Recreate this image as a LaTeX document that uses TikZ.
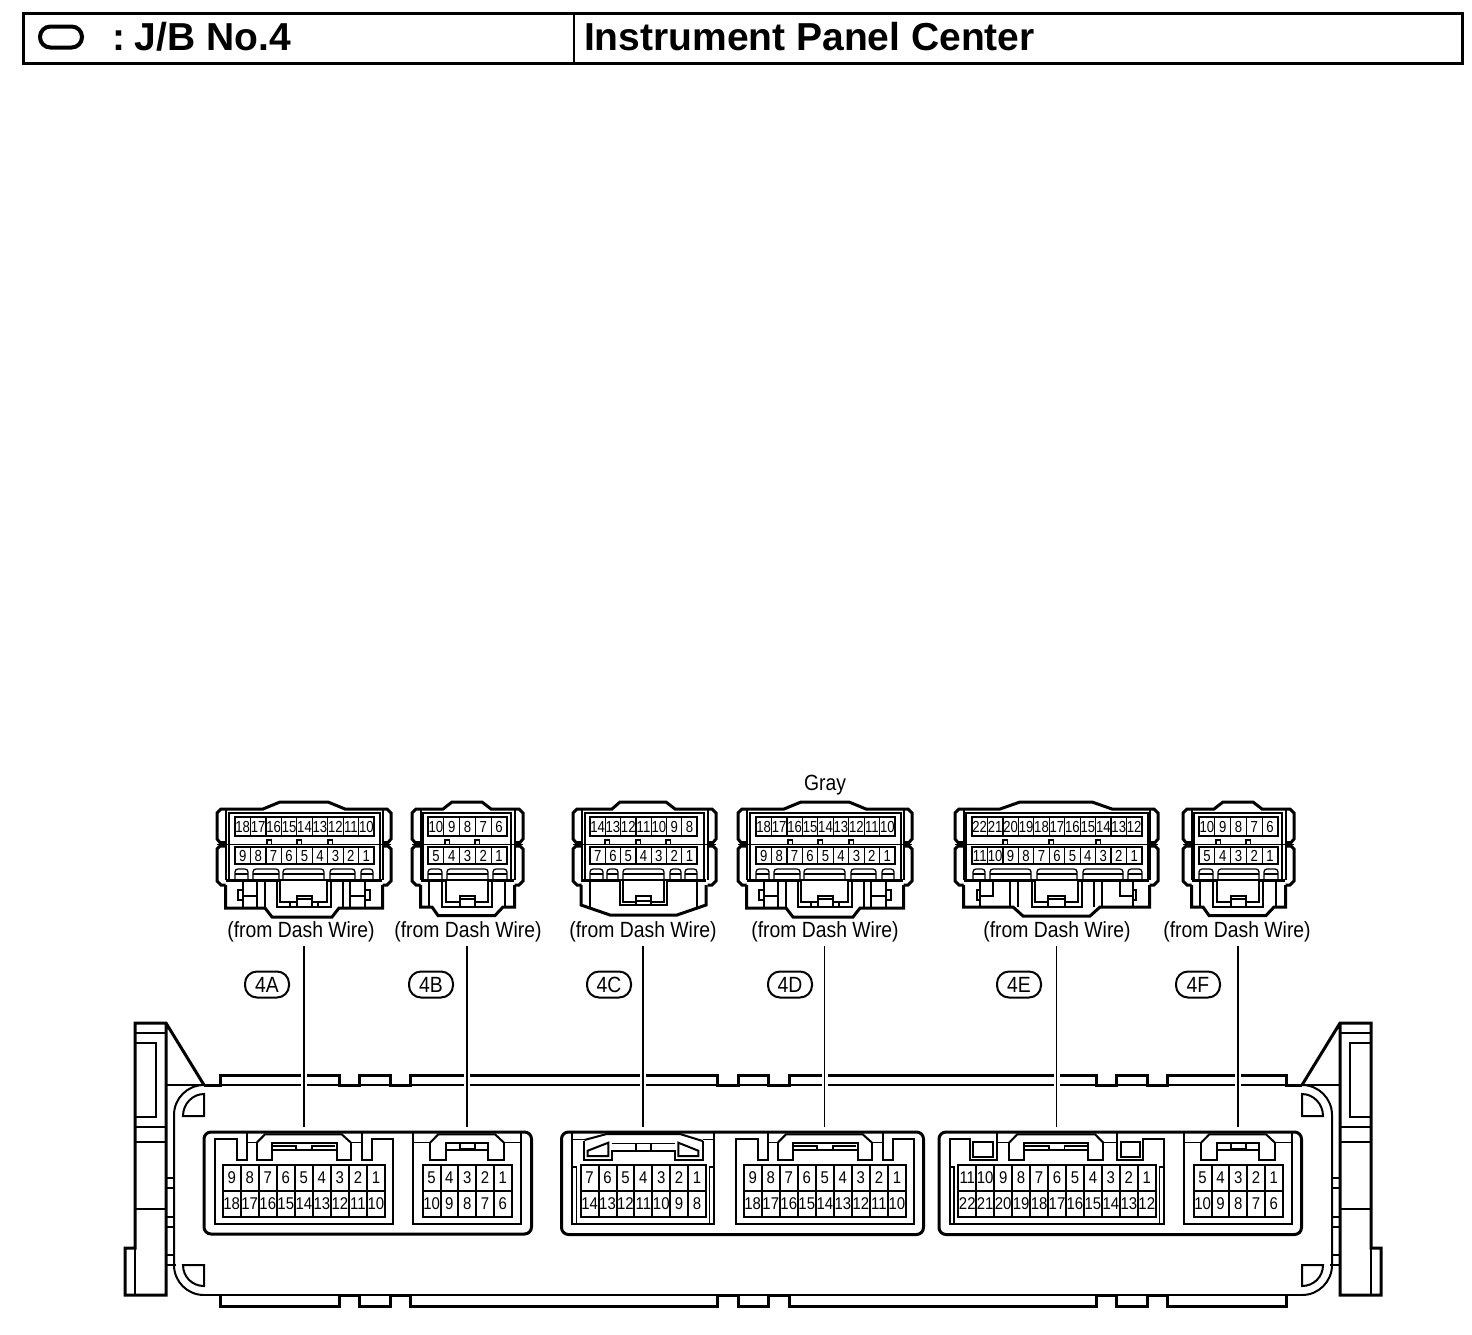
\documentclass[tikz,border=0pt]{standalone}
\usepackage{fontspec}
\setmainfont{Liberation Sans}
\newfontfamily\narf[FakeStretch=.88]{Liberation Sans}
\newfontfamily\narg[FakeStretch=.82]{Liberation Sans}
\newcommand{\fsock}{\narf\fontsize{17}{17}\selectfont}
\newcommand{\fplug}{\narg\fontsize{16}{16}\selectfont}
\newcommand{\flab}{\narf\fontsize{22}{22}\selectfont}
\tikzset{
  thn/.style={line width=1.3pt,line join=miter},
  med/.style={line width=2pt,line join=miter},
  thk/.style={line width=3pt,line join=miter},
  pin/.style={inner sep=0pt,outer sep=0pt,text height=11.7pt,text depth=0pt},
  txt/.style={inner sep=0pt,outer sep=0pt,font=\flab},
  badge/.style={draw,line width=2pt,rounded corners=12pt,minimum width=44pt,minimum height=26pt,inner sep=0pt,font=\flab},
  leader/.style={line width=2.2pt},
  leaderthin/.style={line width=1.5pt},
  head/.style={inner sep=0pt,outer sep=0pt,anchor=base west,font=\bfseries\fontsize{39}{39}\selectfont}
}
% name, x0, cell w, ytop, ybot, first number, count, font, line style
\newcommand{\pinrow}[9]{%
  \foreach \k in {1,...,#7}{%
    \pgfmathsetmacro\xa{#2+(\k-1)*#3}%
    \pgfmathsetmacro\xb{\xa+#3}%
    \pgfmathsetmacro\xc{\xa+#3/2}%
    \pgfmathsetmacro\yc{(#4+#5)/2}%
    \pgfmathtruncatemacro\lab{#6-\k+1}%
    \draw[#9] (\xa,#4) rectangle (\xb,#5);
    \node[pin,font=#8] (#1-\lab) at (\xc,\yc) {\lab};
  }%
}
\newcommand{\lobe}{%
  \draw[thk] (14,809)--(4,809)--(0,813)--(0,839)--(3,842.5)--(8.5,842.5);
  \draw[thk] (8.5,846)--(3,846)--(0,849)--(0,881)--(4,885)--(8.5,885);
  \draw[med] (8.5,809)--(8.5,880);
}
\newcommand{\lobes}[2]{%
  \begin{scope}[xshift=#1pt]\lobe\end{scope}
  \begin{scope}[xshift=#2pt,xscale=-1]\lobe\end{scope}
  \draw[thn] (#1,844.5)--(#2,844.5);
}
\newcommand{\slot}[2]{%
  \draw[thn,rounded corners=3pt] (#1,879)--(#1,869)--(#2,869)--(#2,879);
  \draw[med] (#1,874)--(#2,874);
}
\newcommand{\tab}[1]{\draw[thn] (#1,844)--(#1,840)--++(4.5,0)--++(0,4);}
% 18-way plug drawn at 4A position
\newcommand{\plugA}[1]{%
  \lobes{217}{391}
  \draw[thk] (231,809)--(263,809)--(280,802)--(328,802)--(345,809)--(377,809);
  \draw[med] (229,813)--(380,813)--(380,879.5)--(229,879.5)--cycle;
  \pinrow{#1t}{235}{15.45}{817}{836}{18}{9}{\fplug}{thn}
  \pinrow{#1b}{235}{15.45}{847}{864}{9}{9}{\fplug}{thn}
  \tab{267}\tab{297}\tab{328}
  \slot{235}{248}\slot{253}{279}\slot{283}{324}\slot{330}{355}\slot{361}{373}
  \draw[thk] (225.5,885)--(225.5,908)--(265,908)--(272,917)--(332,917)--(339,908)--(382.5,908)--(382.5,885);
  \draw[thk] (226,880.5)--(280,880.5) (327,880.5)--(382,880.5);
  \draw[med] (257,880)--(257,908) (265,880)--(265,908) (343,880)--(343,908) (350,880)--(350,908);
  \draw[med] (277,880)--(277,907)--(331,907)--(331,880);
  \draw[med] (280,880)--(280,902)--(297,902) (312,902)--(327,902)--(327,880);
  \draw[med] (297,907)--(297,896)--(312,896)--(312,907) (297,899)--(312,899);
  \draw[thn] (290,902)--(290,907) (318,902)--(318,907);
  \draw[thn] (242,890)--(238,890)--(238,900)--(242,900) (366,890)--(370,890)--(370,900)--(366,900);
  \draw[med] (243,881)--(243,908) (365,881)--(365,908) (243,895.5)--(257,895.5) (350,895.5)--(365,895.5);
}
% 10-way plug drawn at 4B position
\newcommand{\plugB}[1]{%
  \lobes{412}{523}
  \draw[thk] (426,809)--(443,809)--(452,802)--(482,802)--(491,809)--(509,809);
  \draw[med] (423,813)--(511,813)--(511,879.5)--(423,879.5)--cycle;
  \pinrow{#1t}{428}{15.8}{817}{836}{10}{5}{\fplug}{thn}
  \pinrow{#1b}{428}{15.8}{847}{864}{5}{5}{\fplug}{thn}
  \tab{445}\tab{475}
  \slot{428}{442}\slot{447}{488}\slot{493}{507}
  \draw[thk] (420.5,885)--(420.5,907)--(432,907)--(438,915.5)--(495,915.5)--(503,907)--(514.5,907)--(514.5,885);
  \draw[thk] (421,880.5)--(446,880.5) (488,880.5)--(514,880.5);
  \draw[med] (429,880)--(429,907) (505,880)--(505,907);
  \draw[med] (442,880)--(442,907)--(492,907)--(492,880);
  \draw[med] (446,880)--(446,902)--(460,902) (475,902)--(488,902)--(488,880);
  \draw[med] (460,907)--(460,896)--(475,896)--(475,907) (460,899)--(475,899);
}
% 18-way socket drawn at 4A position
\newcommand{\sockA}[1]{%
  \draw[med] (246.7,1131.7)--(246.7,1160)--(236.7,1160)--(236.7,1139.3)--(214.7,1139.3)--(214.7,1224)--(393.3,1224)--(393.3,1139.3)--(371.7,1139.3)--(371.7,1160)--(361.7,1160)--(361.7,1131.7);
  \draw[thn] (246.7,1142.7)--(256.7,1142.7) (351,1142.7)--(361.7,1142.7);
  \draw[med] (256.7,1142.7)--(256.7,1160)--(271.7,1160)--(271.7,1142.7)--(336.7,1142.7)--(336.7,1160)--(351,1160)--(351,1142.7);
  \draw[med] (256.7,1142.7)--(265,1134.3)--(341.7,1134.3)--(351,1142.7);
  \draw[med] (271.7,1150)--(336.7,1150);
  \draw[thn] (273,1146)--(296,1146)--(296,1150) (312,1150)--(312,1146)--(335,1146);
  \pinrow{#1t}{222.7}{18.03}{1165}{1191}{9}{9}{\fsock}{med}
  \pinrow{#1b}{222.7}{18.03}{1191}{1216.5}{18}{9}{\fsock}{med}
}
% 10-way socket drawn at 4B position
\newcommand{\sockB}[1]{%
  \draw[med] (413.3,1131.7)--(413.3,1224)--(520.7,1224)--(520.7,1131.7);
  \draw[thn] (413.3,1142.7)--(430,1142.7) (504,1142.7)--(520.7,1142.7);
  \draw[med] (430,1142.7)--(430,1160)--(445.7,1160)--(445.7,1142.7)--(488.3,1142.7)--(488.3,1160)--(504,1160)--(504,1142.7);
  \draw[med] (430,1142.7)--(438.3,1134.3)--(495,1134.3)--(504,1142.7);
  \draw[med] (445.7,1150)--(488.3,1150);
  \draw[thn] (460,1142.7) rectangle (475,1148.3);
  \pinrow{#1t}{422.7}{17.8}{1165}{1191}{5}{5}{\fsock}{med}
  \pinrow{#1b}{422.7}{17.8}{1191}{1216.5}{10}{5}{\fsock}{med}
}
\newcommand{\corners}{%
  \draw[med] (204,1094) .. controls (192.4,1094) and (183,1104) .. (183,1116) -- (204,1116) -- cycle;
  \draw[med] (183,1265) .. controls (183,1277) and (192.4,1286) .. (204,1286) -- (204,1265) -- cycle;
}
\newcommand{\halfhousing}{%
  \draw[thk] (204,1085)--(220,1085)--(220,1075)--(339,1075)--(339,1085)--(359,1085)--(359,1075)--(390,1075)--(390,1085)--(410,1085)--(410,1075)--(717,1075)--(717,1085)--(738,1085)--(738,1075)--(753.5,1075);
  \draw[med] (410,1085)--(717,1085) (738,1085)--(753.5,1085) (359,1085)--(390,1085) (220,1085)--(339,1085);
  \draw[thk] (220,1295)--(220,1306)--(339,1306)--(339,1295)--(359,1295)--(359,1306)--(390,1306)--(390,1295)--(410,1295)--(410,1306)--(717,1306)--(717,1295)--(738,1295)--(738,1306)--(753.5,1306);
  \draw[med] (204,1295)--(753.5,1295);
  \draw[med] (204,1085) .. controls (187.4,1085) and (174,1098.4) .. (174,1115) -- (174,1265) .. controls (174,1281.6) and (187.4,1295) .. (204,1295);
  \draw[thk] (204,1085)--(166,1023)--(135,1023)--(135,1248)--(125,1248)--(125,1295)--(166,1295)--(166,1023);
  \draw[thn] (166,1085)--(204,1085) (135,1033)--(166,1033) (135,1142)--(166,1142) (135,1248)--(135,1295);
  \draw[med] (135,1043)--(156,1043)--(156,1117)--(135,1117);
  \draw[med] (135,1127)--(166,1127) (135,1209)--(166,1209);
  \draw[thn] (166,1178)--(174,1178) (166,1188)--(174,1188) (166,1217)--(174,1217) (166,1227)--(174,1227) (166,1255)--(174,1255);
  \draw[med] (166,1265)--(176,1265);
  \corners
}
\begin{document}
\begin{tikzpicture}[x=1pt,y=-1pt]
\useasboundingbox (0,0) rectangle (1472,1334);
% header
\draw[line width=3pt] (23.5,13.5) rectangle (1462.5,63);
\draw[med] (574,13.5)--(574,63);
\draw[line width=4pt,rounded corners=10.4pt] (40,26.5) rectangle (82,47.5);
\node[head] (hleft) at (112,50) {:\kern10pt J/B No.4};
\node[head] (hright) at (584,50) {Instrument Panel Center};
% plugs
\plugA{pa}
\plugB{pb}
\begin{scope}[xshift=521pt]\plugA{pd}\end{scope}
\begin{scope}[xshift=771pt]\plugB{pf}\end{scope}
% 4C plug
\lobes{573}{716}
\draw[thk] (587,809)--(612,809)--(620,802)--(666,802)--(675,809)--(702,809);
\draw[med] (585,813)--(704,813)--(704,879.5)--(585,879.5)--cycle;
\pinrow{pct}{590}{15.3}{817}{836}{14}{7}{\fplug}{thn}
\pinrow{pcb}{590}{15.3}{847}{864}{7}{7}{\fplug}{thn}
\tab{605}\tab{636}\tab{666}
\slot{590}{603}\slot{607}{618}\slot{623}{664}\slot{670}{681}\slot{685}{697}
\draw[thk] (581,885)--(581,905)--(610,915)--(677,915)--(706,905)--(706,885);
\draw[thk] (581,880.5)--(620,880.5) (667,880.5)--(706,880.5);
\draw[thn] (590,880)--(590,907) (697,880)--(697,907);
\draw[med] (620,880)--(620,905)--(667,905)--(667,880);
\draw[med] (623,880)--(623,902)--(636,902) (651,902)--(664,902)--(664,880);
\draw[med] (636,905)--(636,896)--(651,896)--(651,905) (636,901)--(651,901);
% 4E plug
\lobes{955}{1158}
\draw[thk] (969,809)--(1000,809)--(1020,802)--(1092,802)--(1112,809)--(1144,809);
\draw[med] (966,813)--(1148,813)--(1148,879.5)--(966,879.5)--cycle;
\pinrow{pet}{972}{15.45}{817}{836}{22}{11}{\fplug}{thn}
\pinrow{peb}{972}{15.45}{847}{864}{11}{11}{\fplug}{thn}
\tab{1003}\tab{1049}\tab{1096}
\slot{973}{985}\slot{990}{1031}\slot{1037}{1077}\slot{1083}{1123}\slot{1128}{1142}
\draw[thk] (963.5,885)--(963.5,907)--(1013,907)--(1023,916)--(1090,916)--(1100,907)--(1149.5,907)--(1149.5,885);
\draw[thk] (964,880.5)--(1035,880.5) (1078,880.5)--(1149,880.5);
\draw[med] (1010,880)--(1010,907) (1018,880)--(1018,907) (1094,880)--(1094,907) (1102,880)--(1102,907);
\draw[med] (1032,880)--(1032,907)--(1082,907)--(1082,880);
\draw[med] (1035,880)--(1035,902)--(1048,902) (1065,902)--(1078,902)--(1078,880);
\draw[med] (1048,907)--(1048,896)--(1065,896)--(1065,907) (1048,899)--(1065,899);
\draw[thn] (980,890)--(977,890)--(977,900)--(980,900) (1133,890)--(1136,890)--(1136,900)--(1133,900);
\draw[med] (980,882)--(980,907) (1133,882)--(1133,907) (993,882)--(993,895.5)--(980,895.5) (1120,882)--(1120,895.5)--(1133,895.5);
% texts
\node[txt] (gray) at (825,785.5) {Gray};
\node[txt] (la) at (301,932) {(from Dash Wire)};
\node[txt] (lb) at (468,932) {(from Dash Wire)};
\node[txt] (lc) at (643,932) {(from Dash Wire)};
\node[txt] (ld) at (825,932) {(from Dash Wire)};
\node[txt] (le) at (1057,932) {(from Dash Wire)};
\node[txt] (lf) at (1237,932) {(from Dash Wire)};
\node[badge] (b4a) at (267,984.5) {4A};
\node[badge] (b4b) at (431,984.5) {4B};
\node[badge] (b4c) at (609,984.5) {4C};
\node[badge] (b4d) at (790,984.5) {4D};
\node[badge] (b4e) at (1019,984.5) {4E};
\node[badge] (b4f) at (1198,984.5) {4F};
% housing
\halfhousing
\begin{scope}[xshift=1506pt,xscale=-1]\halfhousing\end{scope}
% groups
\draw[thk,rounded corners=7pt] (204,1132) rectangle (531.5,1234);
\draw[thk,rounded corners=7pt] (561.5,1132) rectangle (923.5,1234.5);
\draw[thk,rounded corners=7pt] (939,1132) rectangle (1301.5,1234.5);
% sockets
\sockA{sa}
\sockB{sb}
\begin{scope}[xshift=521pt]\sockA{sd}\end{scope}
\begin{scope}[xshift=771pt]\sockB{sf}\end{scope}
% 4C socket
\draw[med] (571.7,1131.7)--(571.7,1224)--(714,1224)--(714,1131.7);
\draw[thn] (576.7,1224)--(576.7,1167)--(571.7,1167) (709.3,1224)--(709.3,1167)--(714,1167);
\draw[thn] (571.7,1139.3)--(584.3,1139.3) (702.7,1139.3)--(714,1139.3);
\draw[med] (584.3,1141)--(584.3,1160)--(611.7,1160)--(611.7,1150.7)--(675,1150.7)--(675,1160)--(702.7,1160)--(702.7,1141);
\draw[med] (584.3,1140)--(606.7,1134)--(680,1134)--(702.7,1141);
\draw[thn] (611.7,1143.3)--(675,1143.3) (636,1143.3)--(636,1150.7) (651,1143.3)--(651,1150.7);
\draw[med] (587.7,1156)--(587.7,1150.7)--(608.3,1142.7)--(608.3,1156)--cycle;
\draw[med] (678.3,1142.7)--(698.3,1150.7)--(698.3,1156)--(678.3,1156)--cycle;
\pinrow{sct}{580.7}{17.9}{1165}{1191}{7}{7}{\fsock}{med}
\pinrow{scb}{580.7}{17.9}{1191}{1216.5}{14}{7}{\fsock}{med}
% 4E socket
\draw[med] (996.7,1131.7)--(996.7,1160)--(970,1160)--(970,1139.3)--(950,1139.3)--(950,1224)--(1164.3,1224)--(1164.3,1139.3)--(1143.3,1139.3)--(1143.3,1160)--(1116.7,1160)--(1116.7,1131.7);
\draw[thn] (954,1224)--(954,1167)--(950,1167) (1159.3,1224)--(1159.3,1167)--(1164.3,1167);
\draw[thn] (996.7,1142.7)--(1009,1142.7) (1103.3,1142.7)--(1116.7,1142.7);
\draw[med] (973.3,1141.7) rectangle (993.3,1156.7) (1120.7,1141.7) rectangle (1140,1156.7);
\draw[med] (1009,1142.7)--(1009,1160)--(1024.3,1160)--(1024.3,1142.7)--(1088.3,1142.7)--(1088.3,1160)--(1103.3,1160)--(1103.3,1142.7);
\draw[med] (1009,1142.7)--(1017.3,1134.3)--(1095,1134.3)--(1103.3,1142.7);
\draw[med] (1024.3,1150)--(1088.3,1150);
\draw[thn] (1025,1146)--(1049,1146)--(1049,1150) (1064.3,1150)--(1064.3,1146)--(1088,1146);
\pinrow{set}{958.3}{17.95}{1165}{1191}{11}{11}{\fsock}{med}
\pinrow{seb}{958.3}{17.95}{1191}{1216.5}{22}{11}{\fsock}{med}
% leaders
\coordinate (ta) at (304,946); \coordinate (ua) at (304,1127);
\coordinate (tb) at (467,946); \coordinate (ub) at (467,1127);
\coordinate (tc) at (643,946); \coordinate (uc) at (643,1127);
\coordinate (td) at (824.5,946); \coordinate (ud) at (824.5,1127);
\coordinate (te) at (1056.5,946); \coordinate (ue) at (1056.5,1127);
\coordinate (tf) at (1238,946); \coordinate (uf) at (1238,1127);
\foreach \a/\b/\s in {ta/ua/leader,tb/ub/leader,tc/uc/leader,td/ud/leaderthin,te/ue/leaderthin,tf/uf/leader}{%
  \draw[white,line width=6pt] ([yshift=-125pt]\a) -- ([yshift=-142pt]\a);
  \draw[\s] (\a) -- (\b);
}
\end{tikzpicture}
\end{document}
